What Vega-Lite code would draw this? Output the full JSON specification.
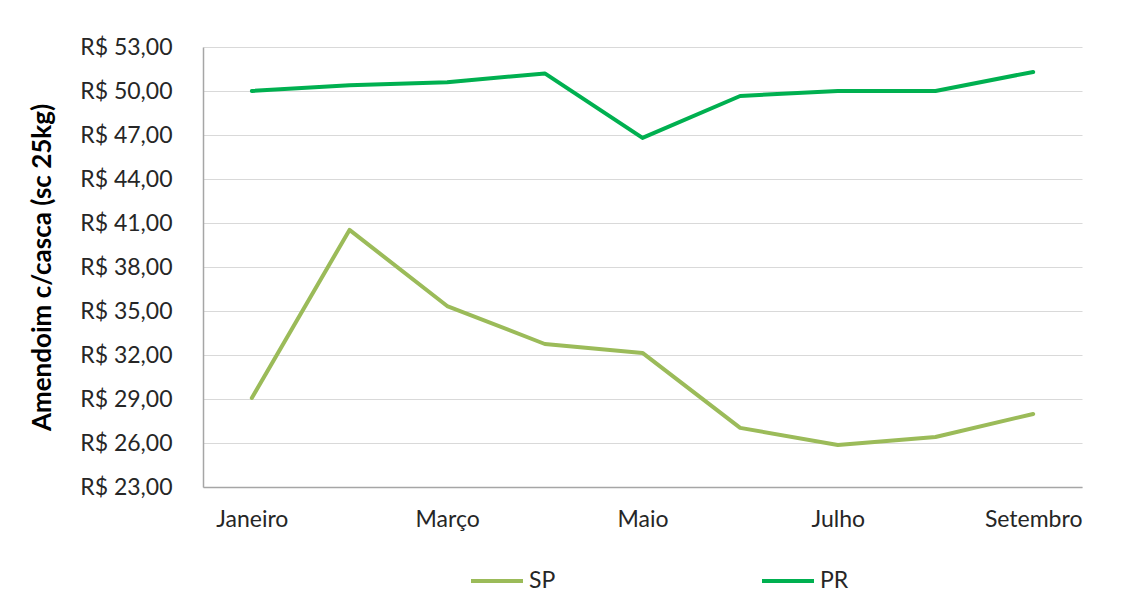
{
  "$schema": "https://vega.github.io/schema/vega-lite/v6.json",
  "width": 879,
  "height": 440,
  "autosize": {"type": "none"},
  "padding": {"left": 203, "top": 47, "right": 48, "bottom": 122},
  "background": "white",
  "config": {
    "view": {"stroke": null},
    "font": "Lato",
    "axis": {"labelFont": "Lato", "titleFont": "Lato"},
    "legend": {"labelFont": "Lato"}
  },
  "data": {
    "values": [
      {"mes": "Janeiro", "ordem": 1, "serie": "SP", "valor": 29.07},
      {"mes": "Fevereiro", "ordem": 2, "serie": "SP", "valor": 40.53},
      {"mes": "Março", "ordem": 3, "serie": "SP", "valor": 35.34},
      {"mes": "Abril", "ordem": 4, "serie": "SP", "valor": 32.75},
      {"mes": "Maio", "ordem": 5, "serie": "SP", "valor": 32.14},
      {"mes": "Junho", "ordem": 6, "serie": "SP", "valor": 27.03},
      {"mes": "Julho", "ordem": 7, "serie": "SP", "valor": 25.87},
      {"mes": "Agosto", "ordem": 8, "serie": "SP", "valor": 26.41},
      {"mes": "Setembro", "ordem": 9, "serie": "SP", "valor": 27.98},
      {"mes": "Janeiro", "ordem": 1, "serie": "PR", "valor": 50.0},
      {"mes": "Fevereiro", "ordem": 2, "serie": "PR", "valor": 50.4},
      {"mes": "Março", "ordem": 3, "serie": "PR", "valor": 50.6},
      {"mes": "Abril", "ordem": 4, "serie": "PR", "valor": 51.2},
      {"mes": "Maio", "ordem": 5, "serie": "PR", "valor": 46.8},
      {"mes": "Junho", "ordem": 6, "serie": "PR", "valor": 49.66},
      {"mes": "Julho", "ordem": 7, "serie": "PR", "valor": 50.0},
      {"mes": "Agosto", "ordem": 8, "serie": "PR", "valor": 50.0},
      {"mes": "Setembro", "ordem": 9, "serie": "PR", "valor": 51.3}
    ]
  },
  "mark": {"type": "line", "strokeWidth": 4, "strokeCap": "round", "strokeJoin": "round"},
  "encoding": {
    "x": {
      "field": "mes",
      "type": "ordinal",
      "sort": ["Janeiro", "Fevereiro", "Março", "Abril", "Maio", "Junho", "Julho", "Agosto", "Setembro"],
      "scale": {"type": "point", "padding": 0.5},
      "axis": {
        "title": null,
        "values": ["Janeiro", "Março", "Maio", "Julho", "Setembro"],
        "labelAngle": 0,
        "labelFontSize": 23,
        "labelColor": "#262626",
        "labelPadding": 21,
        "ticks": false,
        "domainColor": "#a6a6a6",
        "domainWidth": 1.5,
        "grid": false
      }
    },
    "y": {
      "field": "valor",
      "type": "quantitative",
      "scale": {"domain": [23, 53], "nice": false, "zero": false},
      "axis": {
        "title": "Amendoim c/casca (sc 25kg)",
        "titleFontSize": 26,
        "titleFontWeight": "bold",
        "titleColor": "#000000",
        "titlePadding": 24,
        "values": [23, 26, 29, 32, 35, 38, 41, 44, 47, 50, 53],
        "labelExpr": "'R$ ' + replace(format(datum.value, '.2f'), '.', ',')",
        "labelFontSize": 23,
        "labelColor": "#262626",
        "labelPadding": 31,
        "ticks": false,
        "domainColor": "#a6a6a6",
        "domainWidth": 1.5,
        "gridColor": "#d9d9d9",
        "gridWidth": 1
      }
    },
    "color": {
      "field": "serie",
      "type": "nominal",
      "sort": ["SP", "PR"],
      "scale": {"domain": ["SP", "PR"], "range": ["#9bbb59", "#00b050"]},
      "legend": {
        "title": null,
        "orient": "none",
        "legendX": 266,
        "legendY": 506,
        "direction": "horizontal",
        "columns": 2,
        "columnPadding": 198,
        "symbolType": "stroke",
        "symbolSize": 2704,
        "symbolStrokeWidth": 4,
        "labelFontSize": 23,
        "labelColor": "#262626",
        "labelOffset": 4
      }
    }
  }
}
